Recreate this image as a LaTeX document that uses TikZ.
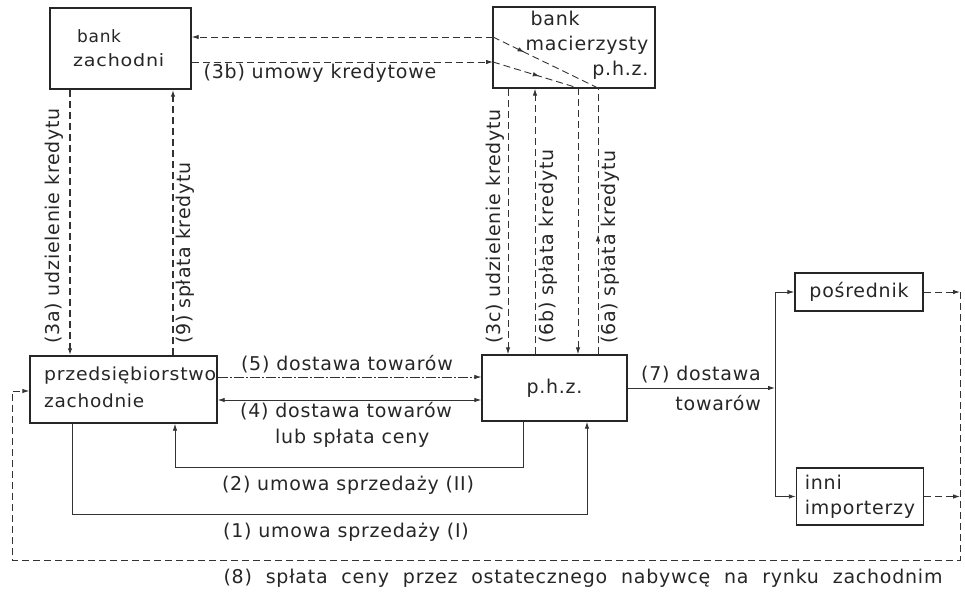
\documentclass[tikz,border=0pt]{standalone}
\usepackage{graphicx}
\usepackage{fontspec}
\setmainfont{DejaVu Sans}[LetterSpace=4]
\newcommand{\wfit}[2]{\resizebox{#1}{\height}{#2}}
\usetikzlibrary{arrows.meta,decorations.markings}
\begin{document}
\begin{tikzpicture}[x=1pt,y=-1pt,
  every node/.style={font=\fontsize{19}{25}\selectfont, text=black!85},
  box/.style={draw=black!85, line width=1.4pt, inner sep=0pt},
  ln/.style={draw=black!80, line width=0.9pt},
  dsh/.style={ln, dash pattern=on 7pt off 4pt},
  hdsh/.style={ln, line width=1.4pt, dash pattern=on 7pt off 4pt},
  ddot/.style={ln, line width=0.7pt, dash pattern=on 10pt off 2pt on 2pt off 2pt},
  tip/.style={-{Latex[length=7pt,width=4.5pt]}},
  dtip/.style={{Latex[length=7pt,width=4.5pt]}-{Latex[length=7pt,width=4.5pt]}},
  midtip/.style={postaction={decorate}, decoration={markings, mark=at position #1 with {\arrow{Latex[length=7pt,width=4.5pt]}}}},
  lbl/.style={inner sep=1pt},
]
\useasboundingbox (0,0) rectangle (965,591);
% boxes
\node[box, minimum width=141pt, minimum height=81pt] (bz) at (120.5,48.5) {};
\node[lbl, anchor=west, align=left, font=\fontsize{17}{24}\selectfont] (bzt) at (72,48) {\hspace*{4pt}bank\\\wfit{91pt}{zachodni}};
\node[box, minimum width=162pt, minimum height=81pt] (bm) at (574,47.5) {};
\node[lbl] (bmt) at (587,46) {\renewcommand{\arraystretch}{1}\begin{tabular}{@{}l@{}}\hspace*{5pt}bank\\macierzysty\\\multicolumn{1}{@{}r@{}}{p.h.z.}\end{tabular}};
\node[box, minimum width=187pt, minimum height=67pt] (pz) at (123.5,389.5) {};
\node[lbl, anchor=west, align=left, font=\fontsize{18}{27}\selectfont] (pzt) at (43,387) {\wfit{172pt}{przedsiębiorstwo}\\\wfit{100pt}{zachodnie}};
\node[box, minimum width=145pt, minimum height=66pt] (phz) at (554.5,388) {p.h.z.};
\node[box, minimum width=128pt, minimum height=38pt] (pos) at (859,292) {pośrednik};
\node[box, minimum width=127pt, minimum height=57pt, align=left] (inn) at (860,496.5) {inni\\importerzy};
% helper coordinates
\coordinate (uL) at (493,37);
\coordinate (lL) at (493,62);
\coordinate (c6a) at (598,88);
\coordinate (c7b) at (578,88);
\coordinate (x3c) at (508,0);
\coordinate (x6b) at (535,0);
\coordinate (x3a) at (70,0);
\coordinate (x9) at (173,0);
\coordinate (y5) at (0,377);
\coordinate (y4) at (0,400);
\coordinate (c2a) at (523,467);
\coordinate (c2b) at (175,467);
\coordinate (c1a) at (72,514);
\coordinate (c1b) at (587,514);
\coordinate (c7) at (775,388);
\coordinate (c7t) at (775,292);
\coordinate (c7d) at (775,496.5);
\coordinate (r1) at (960,292);
\coordinate (r2) at (960,496.5);
\coordinate (r3) at (960,560);
\coordinate (r4) at (12,560);
\coordinate (r5) at (12,391);
% bank connections
\draw[dsh, tip] (uL) -- (uL -| bz.east);
\draw[dsh, midtip=0.3] (uL) -- (c6a);
\draw[dsh, midtip=0.45] (phz.north -| c6a) -- (c6a);
\draw[dsh, tip] (lL -| bz.east) -- (lL);
\draw[dsh, midtip=0.55] (lL) -- (c7b);
\draw[dsh, tip] (c7b) -- (phz.north -| c7b);
\draw[dsh, tip] (bm.south -| x3c) -- (phz.north -| x3c);
\draw[dsh, tip] (phz.north -| x6b) -- (bm.south -| x6b);
\draw[hdsh, tip] (bz.south -| x3a) -- (pz.north -| x3a);
\draw[hdsh, tip] (pz.north -| x9) -- (bz.south -| x9);
% trade connections
\draw[ddot, tip] (pz.east |- y5) -- (phz.west |- y5);
\draw[ln, dtip] (pz.east |- y4) -- (phz.west |- y4);
\draw[ln, tip] (phz.south -| c2a) -- (c2a) -- (c2b) -- (pz.south -| c2b);
\draw[ln, tip] (pz.south -| c1a) -- (c1a) -- (c1b) -- (phz.south -| c1b);
\draw[ln, tip] (phz.east) -- (c7);
\draw[ln] (c7t) -- (c7d);
\draw[ln, tip] (c7t) -- (pos.west);
\draw[ln, tip] (c7d) -- (inn.west);
% payment loop
\draw[dsh, tip] (pos.east) -- (r1);
\draw[dsh, tip] (inn.east) -- (r2);
\draw[dsh, tip] (r1) -- (r3) -- (r4) -- (r5) -- (pz.west |- r5);
% labels
\node[lbl] (l3b) at (320,73) {(3b) umowy kredytowe};
\node[lbl, rotate=90, anchor=west] (l3a) at (54,345) {(3a) udzielenie kredytu};
\node[lbl, rotate=90, anchor=west] (l9) at (185,345) {(9) spłata kredytu};
\node[lbl, rotate=90, anchor=west] (l3c) at (495,345) {(3c) udzielenie kredytu};
\node[lbl, rotate=90, anchor=west] (l6b) at (548,345) {(6b) spłata kredytu};
\node[lbl, rotate=90, anchor=west] (l6a) at (610,345) {(6a) spłata kredytu};
\node[lbl] (l5) at (347,364) {(5) dostawa towarów};
\node[lbl, align=left, anchor=west, font=\fontsize{19}{26}\selectfont] (l4) at (239,425) {(4) dostawa towarów\\\hspace*{35pt}lub spłata ceny};
\node[lbl] (l2) at (348,485) {(2) umowa sprzedaży (II)};
\node[lbl] (l1) at (346,532) {(1) umowa sprzedaży (I)};
\node[lbl, align=right, anchor=east, font=\fontsize{19}{30}\selectfont] (l7) at (762,388) {(7) dostawa\\towarów};
\node[lbl] (l8) at (583,578) {(8)\hspace{7pt} spłata\hspace{7pt} ceny\hspace{7pt} przez\hspace{7pt} ostatecznego\hspace{7pt} nabywcę\hspace{7pt} na\hspace{7pt} rynku\hspace{7pt} zachodnim};
\end{tikzpicture}
\end{document}
